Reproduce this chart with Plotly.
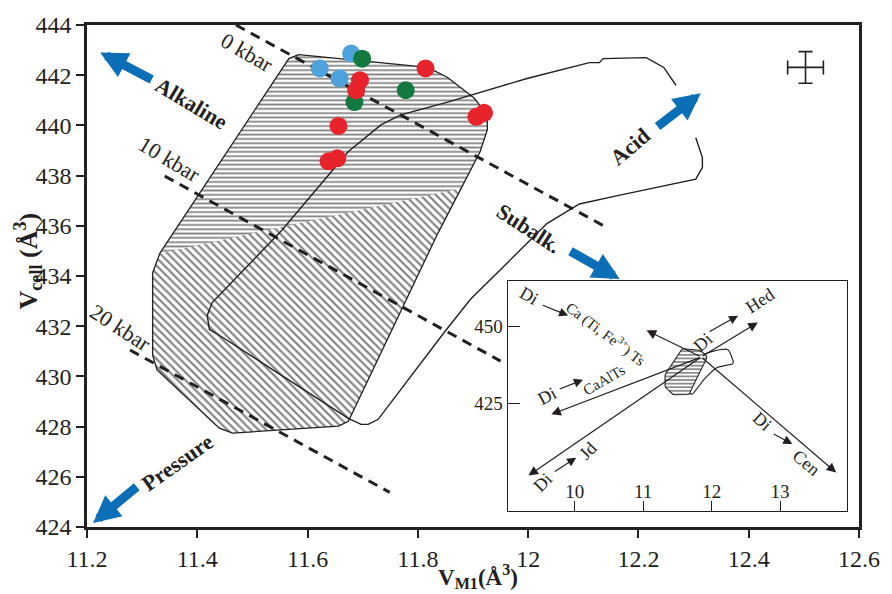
import plotly.graph_objects as go

# ---------------- data ----------------
# hatched field (V_M1, V_cell)
hatch_x = [11.584, 11.818, 11.854, 11.902, 11.926, 11.926, 11.913, 11.836, 11.674, 11.656,
           11.464, 11.440, 11.327, 11.319, 11.319, 11.332, 11.566, 11.584]
hatch_y = [442.82, 442.31, 441.91, 441.09, 440.42, 439.83, 438.96, 435.69, 428.21, 428.02,
           427.74, 427.94, 430.26, 430.85, 434.12, 434.90, 442.66, 442.82]
# upper part of hatched field (horizontal hatching)
hup_x = [11.332, 11.566, 11.584, 11.818, 11.854, 11.902, 11.926, 11.926, 11.913, 11.879, 11.332]
hup_y = [434.90, 442.66, 442.82, 442.31, 441.91, 441.09, 440.42, 439.83, 438.96, 437.50, 434.90]

# open outline of the wider field (gap near the Acid arrow)
out_x = [12.268, 12.246, 12.214, 12.136, 12.129, 12.111, 11.998, 11.895, 11.854, 11.769,
         11.733, 11.674, 11.553, 11.427, 11.418, 11.422, 11.440, 11.674, 11.697, 11.710,
         11.728, 11.848, 11.895, 12.034, 12.093, 12.160, 12.304, 12.316, 12.316, 12.304]
out_y = [441.60, 442.31, 442.70, 442.66, 442.50, 442.50, 441.87, 441.20, 440.93, 440.42,
         440.02, 438.96, 435.81, 432.94, 432.43, 431.87, 431.64, 428.33, 428.09, 428.09,
         428.29, 431.76, 433.06, 436.09, 436.87, 437.19, 437.86, 438.33, 438.72, 439.51]

# samples
blue_x = [11.679, 11.622, 11.658]
blue_y = [442.86, 442.27, 441.87]
green_x = [11.699, 11.778, 11.685]
green_y = [442.66, 441.40, 440.93]
red_x = [11.814, 11.695, 11.688, 11.656, 11.638, 11.654, 11.906, 11.920]
red_y = [442.27, 441.80, 441.40, 439.98, 438.57, 438.69, 440.34, 440.50]

# isobars
iso_labels = ["0 kbar", "10 kbar", "20 kbar"]
iso_x = [[11.470, 12.136], [11.341, 11.950], [11.278, 11.749]]
iso_y = [[444.00, 436.01], [437.98, 430.61], [431.05, 425.38]]
iso_lab_x = [11.490, 11.350, 11.260]
iso_lab_y = [442.90, 438.65, 431.95]
iso_lab_ang = [30, 31, 33]

# trend arrows
trend_names = ["Alkaline", "Acid", "Subalk.", "Pressure"]
trend_head_x = [11.224, 12.313, 12.166, 11.211]
trend_head_y = [442.90, 441.28, 433.88, 424.16]
trend_tail_x = [11.320, 12.232, 12.074, 11.293]
trend_tail_y = [441.80, 439.91, 435.02, 425.65]
trend_lab_x = [11.390, 12.185, 12.001, 11.364]
trend_lab_y = [440.89, 439.16, 435.89, 426.56]
trend_lab_ang = [31, -40, 33, -35]

# error cross
err_x, err_y = [12.503], [442.31]
err_dx, err_dy = 0.0324, 0.63

# inset vectors from Di
di_x, di_y = 11.848, 440.13
vec_names = ["Ca(Ti,Fe)Ts", "CaAlTs", "Jd", "Hed", "Cen"]
vec_x = [11.049, 9.656, 9.322, 12.675, 13.821]
vec_y = [448.75, 421.61, 401.82, 451.31, 402.78]

x_ticks = [11.2, 11.4, 11.6, 11.8, 12.0, 12.2, 12.4, 12.6]
x_ticktext = ["11.2", "11.4", "11.6", "11.8", "12", "12.2", "12.4", "12.6"]
y_ticks = list(range(424, 445, 2))
ix_ticks = [10, 11, 12, 13]
iy_ticks = [400, 425, 450]

SERIF = "Liberation Serif, Times New Roman, serif"
INK = "#231f20"
BLUE_ARROW = "#0b6fb8"

fig = go.Figure()

# hatched field: lower (diagonal) then upper (horizontal)
fig.add_trace(go.Scatter(x=hatch_x, y=hatch_y, mode="lines", fill="toself",
                         line=dict(width=0, color=INK),
                         fillpattern=dict(shape="\\", size=5.5, solidity=0.38,
                                          fgcolor="black", bgcolor="white"),
                         hoverinfo="skip", showlegend=False))
fig.add_trace(go.Scatter(x=hup_x, y=hup_y, mode="lines", fill="toself",
                         line=dict(width=0, color=INK),
                         fillpattern=dict(shape="-", size=4.3, solidity=0.4,
                                          fgcolor="black", bgcolor="white"),
                         hoverinfo="skip", showlegend=False))
fig.add_trace(go.Scatter(x=hatch_x, y=hatch_y, mode="lines",
                         line=dict(width=1.3, color=INK),
                         hoverinfo="skip", showlegend=False))
fig.add_trace(go.Scatter(x=out_x, y=out_y, mode="lines",
                         line=dict(width=1.4, color=INK),
                         hoverinfo="skip", showlegend=False))

# isobars
for lab, xs, ys, lx, ly, ang in zip(iso_labels, iso_x, iso_y, iso_lab_x, iso_lab_y, iso_lab_ang):
    fig.add_trace(go.Scatter(x=xs, y=ys, mode="lines",
                             line=dict(width=3, color=INK, dash="10px,7px"),
                             hoverinfo="skip", showlegend=False))
    fig.add_annotation(x=lx, y=ly, text=lab, showarrow=False, textangle=ang,
                       font=dict(family=SERIF, size=22, color=INK))

# samples
for xs, ys, col in [(blue_x, blue_y, "#4ea3dc"), (green_x, green_y, "#13793e"),
                    (red_x, red_y, "#e8232b")]:
    fig.add_trace(go.Scatter(x=xs, y=ys, mode="markers",
                             marker=dict(size=18, color=col, line=dict(width=0)),
                             showlegend=False))

# error cross
fig.add_trace(go.Scatter(x=err_x, y=err_y, mode="markers",
                         marker=dict(size=1, color="rgba(0,0,0,0)"),
                         error_x=dict(type="constant", value=err_dx, color=INK, thickness=1.6, width=7),
                         error_y=dict(type="constant", value=err_dy, color=INK, thickness=1.6, width=7),
                         showlegend=False, hoverinfo="skip"))

# trend arrows
for name, hx, hy, tx, ty, lx, ly, ang in zip(trend_names, trend_head_x, trend_head_y,
                                             trend_tail_x, trend_tail_y,
                                             trend_lab_x, trend_lab_y, trend_lab_ang):
    fig.add_annotation(x=hx, y=hy, ax=tx, ay=ty, xref="x", yref="y", axref="x", ayref="y",
                       text="", showarrow=True, arrowhead=2, arrowsize=0.6,
                       arrowwidth=9, arrowcolor=BLUE_ARROW)
    fig.add_annotation(x=lx, y=ly, text="<b>" + name + "</b>", showarrow=False,
                       textangle=ang, font=dict(family=SERIF, size=22, color=INK))

# ---------------- inset ----------------
fig.add_trace(go.Scatter(x=out_x + [out_x[0]], y=out_y + [out_y[0]], mode="lines",
                         xaxis="x2", yaxis="y2",
                         line=dict(width=1.1, color=INK), hoverinfo="skip", showlegend=False))
fig.add_trace(go.Scatter(x=hatch_x, y=hatch_y, mode="lines", fill="toself",
                         xaxis="x2", yaxis="y2",
                         line=dict(width=1.1, color=INK),
                         fillpattern=dict(shape="-", size=3.6, solidity=0.45,
                                          fgcolor="black", bgcolor="white"),
                         hoverinfo="skip", showlegend=False))

for vx, vy in zip(vec_x, vec_y):
    fig.add_annotation(x=vx, y=vy, ax=di_x, ay=di_y, xref="x2", yref="y2",
                       axref="x2", ayref="y2", text="", showarrow=True,
                       arrowhead=2, arrowsize=1.6, arrowwidth=1.2, arrowcolor=INK)

# inset labels: (text, x, y, angle, size)
inset_texts = [("Di", 9.337, 459.93, 30, 18),
               ("Ca (Ti, Fe<sup>3+</sup>) Ts", 10.455, 447.83, 37, 15),
               ("Di", 9.598, 427.68, -28, 18),
               ("CaAlTs", 10.427, 432.8, -30, 15),
               ("Di", 11.878, 444.92, -42, 18),
               ("Hed", 12.70, 458.27, -33, 18),
               ("Di", 9.54, 399.6, -45, 18),
               ("Jd", 10.19, 409.8, -45, 18),
               ("Di", 12.73, 419.3, 42, 18),
               ("Cen", 13.39, 406.0, 40, 18)]
for t, tx, ty, ang, sz in inset_texts:
    fig.add_annotation(x=tx, y=ty, xref="x2", yref="y2", text=t, showarrow=False,
                       textangle=ang, font=dict(family=SERIF, size=sz, color=INK))

# small "Di -> X" arrows: (tail x, tail y, head x, head y)
mini_arrows = [(9.511, 457.05, 9.903, 453.54),
               (9.758, 429.6, 10.12, 432.8),
               (11.95, 448.1, 12.386, 453.5),
               (9.686, 402.8, 10.02, 407.6),
               (12.886, 415.5, 13.18, 412.0)]
for tx, ty, hx, hy in mini_arrows:
    fig.add_annotation(x=hx, y=hy, ax=tx, ay=ty, xref="x2", yref="y2",
                       axref="x2", ayref="y2", text="", showarrow=True,
                       arrowhead=2, arrowsize=1.5, arrowwidth=1.2, arrowcolor=INK)

# axis titles
fig.add_annotation(x=0.506, y=-0.099, xref="paper", yref="paper", showarrow=False,
                   text="<b>V<sub>M1</sub>(Å<sup>3</sup>)</b>",
                   xanchor="center", yanchor="middle",
                   font=dict(family=SERIF, size=23, color=INK))
fig.add_annotation(x=-0.077, y=0.53, xref="paper", yref="paper", showarrow=False,
                   text="<b>V<sub>cell</sub> (Å<sup>3</sup>)</b>", textangle=-90,
                   xanchor="center", yanchor="middle",
                   font=dict(family=SERIF, size=26, color=INK))

fig.update_layout(
    width=892, height=594,
    margin=dict(l=87, r=27, t=19, b=67),
    paper_bgcolor="white", plot_bgcolor="white",
    showlegend=False,
    xaxis=dict(range=[11.2, 12.6], tickvals=x_ticks, ticktext=x_ticktext,
               showline=True, linewidth=2.5, linecolor=INK, mirror=True,
               ticks="outside", ticklen=8, tickwidth=2, tickcolor=INK,
               showgrid=False, zeroline=False,
               tickfont=dict(family=SERIF, size=24, color=INK)),
    yaxis=dict(range=[424, 444], tickvals=y_ticks,
               showline=True, linewidth=2.5, linecolor=INK, mirror=True,
               ticks="outside", ticklen=8, tickwidth=2, tickcolor=INK,
               showgrid=False, zeroline=False,
               tickfont=dict(family=SERIF, size=24, color=INK)),
    xaxis2=dict(domain=[0.545, 0.9846], anchor="y2", range=[9.02, 13.98],
                tickvals=ix_ticks, showline=True, linewidth=1.3, linecolor=INK,
                mirror=True, ticks="inside", ticklen=10, tickwidth=1.3, tickcolor=INK,
                ticklabelposition="inside", showgrid=False, zeroline=False,
                tickfont=dict(family=SERIF, size=19, color=INK)),
    yaxis2=dict(domain=[0.0315, 0.490], anchor="x2", range=[390.3, 464.7],
                tickvals=iy_ticks, showline=True, linewidth=1.3, linecolor=INK,
                mirror=True, ticks="inside", ticklen=12, tickwidth=1.3, tickcolor=INK,
                showgrid=False, zeroline=False,
                tickfont=dict(family=SERIF, size=19, color=INK)),
)

fig.write_html("out.html")
